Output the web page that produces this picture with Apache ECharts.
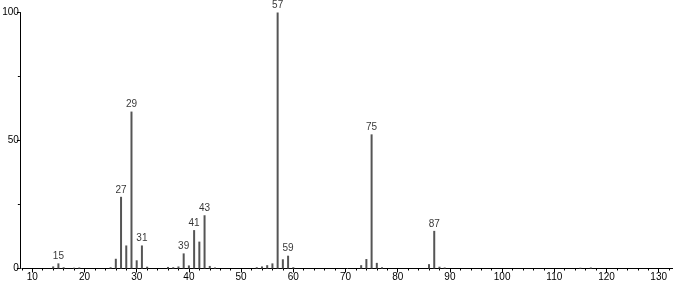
<!DOCTYPE html>
<html><head><meta charset="utf-8">
<script src="https://cdn.jsdelivr.net/npm/echarts@6/dist/echarts.min.js"></script>
<style>html,body{margin:0;padding:0;background:#fff}#c{width:673px;height:285px}</style>
</head><body><div id="c"></div>
<script>
const mz =        [14, 15, 16, 18, 19, 25, 26, 27, 28, 29, 30, 31, 32, 36, 37, 38, 39, 40, 41, 42, 43, 44, 45, 53, 54, 55, 56, 57, 58, 59, 60, 73, 74, 75, 76, 77, 86, 87, 88, 89, 115, 117];
const intensity = [0.8, 2, 0.5, 0.3, 0.4, 0.5, 3.8, 28, 9, 61.3, 3.2, 9, 0.7, 0.6, 0.5, 0.8, 5.9, 1.2, 15, 10.5, 20.8, 1, 0.4, 0.5, 0.8, 1.3, 2, 100, 3.6, 5, 0.5, 1.3, 3.7, 52.4, 2.2, 0.5, 1.7, 14.7, 0.7, 0.4, 0.3, 0.4];
const labeledPeaks = [15, 27, 29, 31, 39, 41, 43, 57, 59, 75, 87];
const xTicks = [10, 20, 30, 40, 50, 60, 70, 80, 90, 100, 110, 120, 130];
const yTicks = [0, 50, 100];

const FONT = 'Liberation Sans';
const chart = echarts.init(document.getElementById('c'));
const sticks = mz.map((m, i) => [m, intensity[i]]);
const labels = mz.map((m, i) => [m, intensity[i]]).filter(d => labeledPeaks.includes(d[0]));
chart.setOption({
  animation: false,
  grid: [
    { left: 21.86, width: 651.14, top: 12.5, height: 256, outerBoundsMode: 'none', containLabel: false },
    { left: 32.3, width: 626.4, top: 12.5, height: 256, outerBoundsMode: 'none', containLabel: false }
  ],
  xAxis: [
    { type: 'value', gridIndex: 0, min: 8, max: 132.74, interval: 2,
      axisLine: { lineStyle: { color: '#000', width: 1 } },
      axisTick: { show: true, length: 2, inside: false, lineStyle: { color: '#000' } },
      axisLabel: { show: false }, splitLine: { show: false } },
    { type: 'value', gridIndex: 1, min: xTicks[0], max: xTicks[xTicks.length - 1], interval: 10,
      axisLine: { show: false },
      axisTick: { show: true, length: 4, lineStyle: { color: '#000' } },
      axisLabel: { show: true, margin: 4, fontFamily: FONT, fontSize: 10, color: '#000' },
      splitLine: { show: false } }
  ],
  yAxis: [
    { type: 'value', gridIndex: 0, min: yTicks[0], max: yTicks[yTicks.length - 1], interval: 50, offset: 2,
      axisLine: { show: true, lineStyle: { color: '#000' } },
      axisTick: { show: true, length: 3, lineStyle: { color: '#000' } },
      minorTick: { show: true, splitNumber: 2, length: 2, lineStyle: { color: '#000' } },
      axisLabel: { margin: 1, fontFamily: FONT, fontSize: 10, color: '#000' },
      splitLine: { show: false } },
    { type: 'value', gridIndex: 1, min: 0, max: 100, show: false }
  ],
  series: [{
    type: 'custom', xAxisIndex: 0, yAxisIndex: 0,
    renderItem: function (params, api) {
      const top = api.coord([api.value(0), api.value(1)]);
      const base = api.coord([api.value(0), 0]);
      return { type: 'rect', shape: { x: top[0] - 1, y: top[1], width: 2, height: base[1] - top[1] },
        style: { fill: '#555' } };
    },
    encode: { x: 0, y: 1 },
    data: sticks
  }, {
    type: 'scatter', xAxisIndex: 0, yAxisIndex: 0, symbolSize: 0,
    label: { show: true, position: 'top', distance: 2, fontFamily: FONT, fontSize: 10, color: '#000',
      formatter: p => String(p.value[0]) },
    data: labels
  }]
});
</script></body></html>
